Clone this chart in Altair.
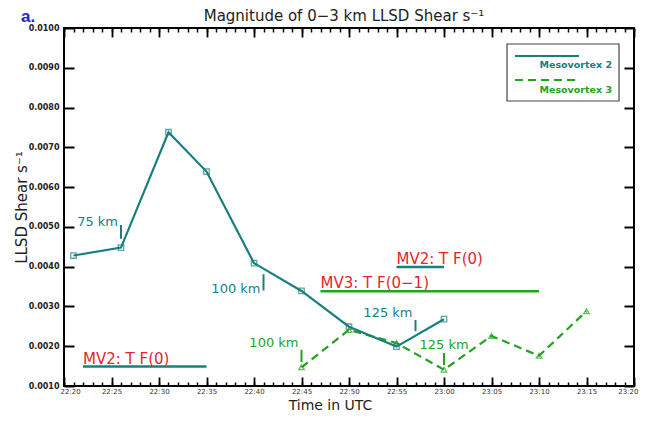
import altair as alt
import pandas as pd

# ---------------- data ----------------
mv2_times = ["22:21", "22:26", "22:31", "22:35", "22:40", "22:45", "22:50", "22:55", "23:00"]
mv2_vals = [0.00428, 0.00448, 0.00738, 0.00639, 0.00409, 0.00339, 0.00249, 0.00199, 0.00268]

mv3_times = ["22:45", "22:50", "22:55", "23:00", "23:05", "23:10", "23:15"]
mv3_vals = [0.00147, 0.00241, 0.00208, 0.00141, 0.00226, 0.00176, 0.00288]

x_tick_labels = ["22:20", "22:25", "22:30", "22:35", "22:40", "22:45", "22:50",
                 "22:55", "23:00", "23:05", "23:10", "23:15", "23:20"]
y_ticks = [0.0010, 0.0020, 0.0030, 0.0040, 0.0050, 0.0060, 0.0070, 0.0080, 0.0090, 0.0100]

series_keys = ["MV2", "MV3"]
series_names = ["Mesovortex 2", "Mesovortex 3"]
series_colors = ["#17807e", "#22a31f"]

# distance annotations (range of the vortex from radar)
dist_labels = ["75 km", "100 km", "100 km", "125 km", "125 km"]
dist_series = ["MV2", "MV2", "MV3", "MV2", "MV3"]
dist_times = ["22:26", "22:41", "22:45", "22:57", "23:00"]
dist_tick_top = [0.00505, 0.00381, 0.00191, 0.00266, 0.00183]
dist_tick_bot = [0.00470, 0.00340, 0.00160, 0.00238, 0.00153]
dist_text_y = [0.00513, 0.00345, 0.00208, 0.00284, 0.00203]
dist_text_pos = ["left", "left", "left", "left", "above"]

# tornado (T F-scale) periods
tf_labels = ["MV2: T F(0)", "MV2: T F(0)", "MV3: T F(0\u22121)"]
tf_series = ["MV2", "MV2", "MV3"]
tf_start = ["22:22", "22:55", "22:47"]
tf_end = ["22:35", "23:00", "23:10"]
tf_y = [0.00149, 0.00399, 0.00338]

title_text = "Magnitude of 0\u22123 km LLSD Shear s\u207b\u00b9"
y_title = "LLSD Shear s\u207b\u00b9"
x_title = "Time in UTC"
panel_label = "a."

# ---------------- helpers ----------------
T0 = 22 * 60 + 20


def to_min(s):
    h, m = s.split(":")
    return int(h) * 60 + int(m) - T0


mv2_df = pd.DataFrame({"t": [to_min(s) for s in mv2_times], "v": mv2_vals, "series": "MV2"})
mv3_df = pd.DataFrame({"t": [to_min(s) for s in mv3_times], "v": mv3_vals, "series": "MV3"})
dist_df = pd.DataFrame({
    "label": dist_labels, "series": dist_series,
    "t": [to_min(s) for s in dist_times],
    "y1": dist_tick_top, "y2": dist_tick_bot, "ty": dist_text_y, "pos": dist_text_pos,
})
tf_df = pd.DataFrame({
    "label": tf_labels, "series": tf_series,
    "t0": [to_min(s) for s in tf_start], "t1": [to_min(s) for s in tf_end], "y": tf_y,
})

x_major = [to_min(s) for s in x_tick_labels]
x_minor = list(range(x_major[0], x_major[-1] + 1))
label_expr = ("[" + ",".join("'%s'" % s for s in x_tick_labels) + "][indexof(["
              + ",".join(str(v) for v in x_major) + "], datum.value)]")

W, H = 570, 358
TEAL, GREEN, RED = series_colors[0], series_colors[1], "#e3262b"

xs = alt.Scale(domain=[x_major[0], x_major[-1]], nice=False, zero=False)
ys = alt.Scale(domain=[y_ticks[0], y_ticks[-1]], nice=False, zero=False)
color = alt.Color("series:N", scale=alt.Scale(domain=series_keys, range=series_colors), legend=None)


def tick_axis(orient, offset, values, size, width):
    return alt.Axis(orient=orient, offset=offset, values=values, tickSize=size,
                    tickWidth=width, tickColor="black", labels=False, domain=False,
                    grid=False, title="")


ax_x_labels = alt.Axis(orient="bottom", values=x_major, labelExpr=label_expr, ticks=False,
                       domain=False, grid=False, labelFontSize=7, labelColor="#333",
                       labelPadding=1, labelFlush=True, labelFlushOffset=4,
                       labelOverlap=False,
                       title=x_title, titleFontSize=14, titleFontWeight="normal",
                       titleColor="#222", titleX=266, titleY=23, titleBaseline="alphabetic",
                       titleAlign="center")
ax_y_labels = alt.Axis(orient="left", values=y_ticks, format=".4f", ticks=False, domain=False,
                       grid=False, labelFontSize=8, labelFontWeight="bold", labelColor="#222",
                       labelPadding=5, labelFlush=False, labelOverlap=False,
                       title=y_title, titleFontSize=15, titleFontWeight="normal",
                       titleColor="#222", titleAngle=270, titleX=-38, titleY=H / 2,
                       titleBaseline="alphabetic", titleAlign="center")

# ---------------- layers ----------------
mv2_line = alt.Chart(mv2_df).mark_line(color=TEAL, strokeWidth=2.2).encode(
    x=alt.X("t:Q", scale=xs, axis=ax_x_labels),
    y=alt.Y("v:Q", scale=ys, axis=ax_y_labels),
)
mv2_pts = alt.Chart(mv2_df).mark_point(shape="square", filled=False, size=30, strokeWidth=1.3,
                                       color=TEAL).encode(
    x=alt.X("t:Q", scale=xs, axis=tick_axis("top", -H, x_major, 9, 1.8)),
    y=alt.Y("v:Q", scale=ys, axis=tick_axis("right", -W, y_ticks, 10, 2)),
)
mv3_line = alt.Chart(mv3_df).mark_line(color=GREEN, strokeWidth=2.2, strokeDash=[8, 5]).encode(
    x=alt.X("t:Q", scale=xs, axis=tick_axis("top", -H, x_minor, 4, 1.5)),
    y=alt.Y("v:Q", scale=ys, axis=tick_axis("left", -W, y_ticks, 10, 2)),
)
mv3_pts = alt.Chart(mv3_df).mark_point(shape="triangle-up", filled=False, size=30,
                                       strokeWidth=1.3, color=GREEN).encode(
    x=alt.X("t:Q", scale=xs, axis=tick_axis("bottom", -H, x_major, 9, 1.8)),
    y=alt.Y("v:Q", scale=ys, axis=None),
)
tf_bars = alt.Chart(tf_df).mark_rule(strokeWidth=2.5).encode(
    x=alt.X("t0:Q", scale=xs, axis=tick_axis("bottom", -H, x_minor, 4, 1.5)),
    x2="t1:Q",
    y=alt.Y("y:Q", scale=ys, axis=None),
    color=color,
)
tf_text = alt.Chart(tf_df).mark_text(align="left", baseline="middle", dy=-8, fontSize=15,
                                     color=RED).encode(
    x=alt.X("t0:Q", scale=xs, axis=None),
    y=alt.Y("y:Q", scale=ys, axis=None),
    text="label:N",
)
dist_ticks = alt.Chart(dist_df).mark_rule(strokeWidth=2).encode(
    x=alt.X("t:Q", scale=xs, axis=None),
    y=alt.Y("y1:Q", scale=ys, axis=None),
    y2="y2:Q",
    color=color,
)
dist_text_left = alt.Chart(dist_df).transform_filter(alt.datum.pos == "left").mark_text(
    align="right", baseline="middle", dx=-3, fontSize=13).encode(
    x=alt.X("t:Q", scale=xs, axis=None),
    y=alt.Y("ty:Q", scale=ys, axis=None),
    text="label:N",
    color=color,
)
dist_text_above = alt.Chart(dist_df).transform_filter(alt.datum.pos == "above").mark_text(
    align="center", baseline="middle", fontSize=13).encode(
    x=alt.X("t:Q", scale=xs, axis=None),
    y=alt.Y("ty:Q", scale=ys, axis=None),
    text="label:N",
    color=color,
)

one = pd.DataFrame({"k": [0]})
legend_box = alt.Chart(one).mark_rect(fill="white", stroke="#444", strokeWidth=1.2).encode(
    x=alt.value(443), x2=alt.value(555), y=alt.value(16), y2=alt.value(73))
legend_l2 = alt.Chart(one).mark_rule(color=TEAL, strokeWidth=2.2).encode(
    x=alt.value(451), x2=alt.value(515), y=alt.value(28))
legend_l3 = alt.Chart(one).mark_rule(color=GREEN, strokeWidth=2.2, strokeDash=[8, 5]).encode(
    x=alt.value(451), x2=alt.value(515), y=alt.value(52))
legend_t2 = alt.Chart(one).mark_text(align="right", baseline="middle", fontSize=9.5,
                                     fontWeight="bold", color=TEAL).encode(
    x=alt.value(548), y=alt.value(37), text=alt.value(series_names[0]))
legend_t3 = alt.Chart(one).mark_text(align="right", baseline="middle", fontSize=9.5,
                                     fontWeight="bold", color=GREEN).encode(
    x=alt.value(548), y=alt.value(62), text=alt.value(series_names[1]))
panel = alt.Chart(one).mark_text(align="left", baseline="alphabetic", fontSize=17,
                                 fontWeight="bold", font="Liberation Sans",
                                 color="#2424c8").encode(
    x=alt.value(-43), y=alt.value(-6), text=alt.value(panel_label))
title = alt.Chart(one).mark_text(align="center", baseline="alphabetic", fontSize=15,
                                 color="#222").encode(
    x=alt.value(280), y=alt.value(-7), text=alt.value(title_text))

chart = alt.layer(
    legend_box, legend_l2, legend_l3, legend_t2, legend_t3,
    tf_bars, tf_text, dist_ticks, dist_text_left, dist_text_above,
    mv3_line, mv3_pts, mv2_line, mv2_pts, panel, title,
).resolve_axis(x="independent", y="independent").properties(
    width=W, height=H,
    autosize=alt.AutoSizeParams(type="none"),
    padding={"left": 56, "top": 20, "right": 20, "bottom": 27},
).configure(font="DejaVu Sans").configure_view(stroke="black", strokeWidth=2)

chart.save("out.html", embed_options={"renderer": "svg", "actions": False})
